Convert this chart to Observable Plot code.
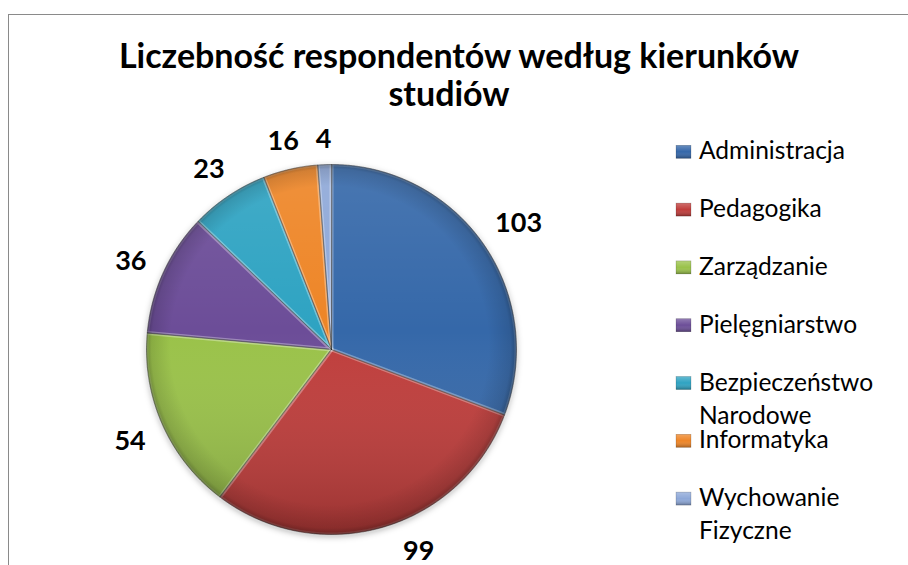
<!DOCTYPE html>
<html><head><meta charset="utf-8">
<script src="https://cdn.jsdelivr.net/npm/d3@7"></script>
<script src="https://cdn.jsdelivr.net/npm/@observablehq/plot@0.6"></script>
<style>
body{margin:0;background:#fff;}
#wrap{position:relative;width:908px;height:565px;overflow:hidden;background:#fff;}
#wrap svg.plot-main{position:absolute;left:0;top:0;}
#frame{position:absolute;left:8px;top:14px;width:1200px;height:1200px;border-top:1.5px solid #8a8a8a;border-left:1.5px solid #8a8a8a;pointer-events:none;}
</style></head><body><div id="wrap"><div id="frame"></div></div>
<script>
const categories = ["Administracja","Pedagogika","Zarządzanie","Pielęgniarstwo","Bezpieczeństwo Narodowe","Informatyka","Wychowanie Fizyczne"];
const values = [103, 99, 54, 36, 23, 16, 4];
const colors = ["#3567A9","#BF3D3B","#9AC24A","#6C4E98","#2FA3C2","#EE8527","#8EA8D8"];
const legendLines = [["Administracja"],["Pedagogika"],["Zarządzanie"],["Pielęgniarstwo"],["Bezpieczeństwo","Narodowe"],["Informatyka"],["Wychowanie","Fizyczne"]];
const titleLines = ["Liczebność respondentów według kierunków","studiów"];

const FAM = "Lato, 'Open Sans', 'DejaVu Sans', sans-serif";
const ctx = document.createElement("canvas").getContext("2d");
function textW(text, weight, size){ ctx.font = `${weight} ${size}px ${FAM}`; return ctx.measureText(text).width; }
function fit(text, weight, target){ return 100*target/textW(text, weight, 100); }
const titleSize = fit(titleLines[0], "bold", 682);
const legendSize = fit("Administracja", "normal", 146);
const labelSize = fit("103", "bold", 47);

const R = 185;          // pie radius in pixels
const GAP = 16;         // gap between pie edge and label box
const LABEL_MAX_DY = 199; // keep labels inside the chart area (pixels below centre)

// pie geometry through d3.pie (clockwise from top)
const arcs = d3.pie().sort(null)(values);
const pts = [];
arcs.forEach((a, i) => {
  const name = categories[i];
  pts.push({name, x: 0, y: 0});
  const n = Math.max(4, Math.ceil((a.endAngle - a.startAngle) / (Math.PI / 360)));
  for (let k = 0; k <= n; k++) {
    const t = a.startAngle + (a.endAngle - a.startAngle) * k / n;
    pts.push({name, x: Math.sin(t), y: Math.cos(t)});
  }
});
const labels = arcs.map((a, i) => {
  const m = (a.startAngle + a.endAngle) / 2;
  const sx = Math.sin(m), sy = -Math.cos(m); // screen direction
  const w = textW(String(values[i]), "bold", labelSize), h = labelSize * 0.92;
  const dist = R + GAP + (w / 2) * Math.abs(sx) + (h / 2) * Math.abs(sy);
  let px = dist * sx, py = dist * sy;
  if (py > LABEL_MAX_DY) { py = LABEL_MAX_DY; px = Math.sign(sx) * Math.sqrt(dist * dist - py * py); }
  return {name: categories[i], value: values[i], x: px / R, y: -py / R};
});

const svg = Plot.plot({
  width: 908, height: 565,
  marginLeft: 146, marginRight: 908 - 146 - 2 * R,
  marginTop: 164, marginBottom: 565 - 164 - 2 * R,
  x: {domain: [-1, 1], axis: null},
  y: {domain: [-1, 1], axis: null},
  color: {domain: categories, range: colors},
  style: {background: "transparent", overflow: "visible"},
  marks: [
    Plot.line(pts, {x: "x", y: "y", z: "name", fill: "name", stroke: "#2b2b2b", strokeOpacity: 0.45, strokeWidth: 0.8, curve: "linear-closed"}),
    Plot.line(pts, {x: "x", y: "y", z: "name", fill: "none", stroke: "#fff", strokeOpacity: 0.18, strokeWidth: 4, curve: "linear-closed"}),
    Plot.line(pts, {x: "x", y: "y", z: "name", fill: "none", stroke: "#222", strokeOpacity: 0.4, strokeWidth: 0.7, curve: "linear-closed"}),
    Plot.dot([{x: 0, y: 0}], {x: "x", y: "y", r: R, fill: "url(#shadeLin)", stroke: null}),
    Plot.dot([{x: 0, y: 0}], {x: "x", y: "y", r: R, fill: "url(#shadeRad)", stroke: null}),
    Plot.text(labels, {x: "x", y: "y", text: "value", dy: 3, fontSize: labelSize, fontWeight: "bold", fill: "#000", fontFamily: FAM})
  ]
});
svg.classList.add("plot-main");
svg.style.fontFamily = FAM;
document.getElementById("wrap").insertBefore(svg, document.getElementById("frame"));

const s = d3.select(svg);
const defs = s.insert("defs", ":first-child");
const lin = defs.append("linearGradient").attr("id", "shadeLin").attr("x1", 0).attr("y1", 0).attr("x2", 0).attr("y2", 1);
lin.append("stop").attr("offset", 0).attr("stop-color", "#fff").attr("stop-opacity", 0.1);
lin.append("stop").attr("offset", 0.45).attr("stop-color", "#fff").attr("stop-opacity", 0);
lin.append("stop").attr("offset", 1).attr("stop-color", "#000").attr("stop-opacity", 0.2);
const rad = defs.append("radialGradient").attr("id", "shadeRad").attr("cx", 0.5).attr("cy", 0.5).attr("r", 0.5).attr("fx", 0.46).attr("fy", 0.42);
rad.append("stop").attr("offset", 0).attr("stop-color", "#000").attr("stop-opacity", 0);
rad.append("stop").attr("offset", 0.86).attr("stop-color", "#000").attr("stop-opacity", 0);
rad.append("stop").attr("offset", 0.97).attr("stop-color", "#000").attr("stop-opacity", 0.12);
rad.append("stop").attr("offset", 1).attr("stop-color", "#000").attr("stop-opacity", 0.3);
const lg = defs.append("linearGradient").attr("id", "legGrad").attr("x1", 0).attr("y1", 0).attr("x2", 0).attr("y2", 1);
lg.append("stop").attr("offset", 0).attr("stop-color", "#fff").attr("stop-opacity", 0.25);
lg.append("stop").attr("offset", 0.5).attr("stop-color", "#fff").attr("stop-opacity", 0);
lg.append("stop").attr("offset", 1).attr("stop-color", "#000").attr("stop-opacity", 0.3);
const flt = defs.append("filter").attr("id", "pieShadow").attr("x", "-10%").attr("y", "-10%").attr("width", "120%").attr("height", "120%");
flt.append("feDropShadow").attr("dx", 0).attr("dy", 2).attr("stdDeviation", 3).attr("flood-color", "#000").attr("flood-opacity", 0.3);
s.select("g[aria-label='line']").attr("filter", "url(#pieShadow)");

// title
const tg = s.append("g").attr("font-family", FAM).attr("font-weight", "bold").attr("font-size", titleSize).attr("text-anchor", "middle").attr("fill", "#000");
tg.append("text").attr("x", 459).attr("y", 68).text(titleLines[0]);
tg.append("text").attr("x", 449).attr("y", 106).text(titleLines[1]);

// legend
const leg = s.append("g").attr("font-family", FAM).attr("font-size", legendSize).attr("fill", "#000").attr("text-anchor", "start");
legendLines.forEach((lines, i) => {
  const b = 159.3 + i * 57.8;
  leg.append("rect").attr("x", 676).attr("y", b - 14).attr("width", 15).attr("height", 13).attr("fill", colors[i]);
  leg.append("rect").attr("x", 676).attr("y", b - 14).attr("width", 15).attr("height", 13).attr("fill", "url(#legGrad)").attr("stroke", "#000").attr("stroke-opacity", 0.25).attr("stroke-width", 0.6);
  lines.forEach((t, j) => leg.append("text").attr("x", 699).attr("y", b + j * 33).text(t));
});
</script></body></html>
